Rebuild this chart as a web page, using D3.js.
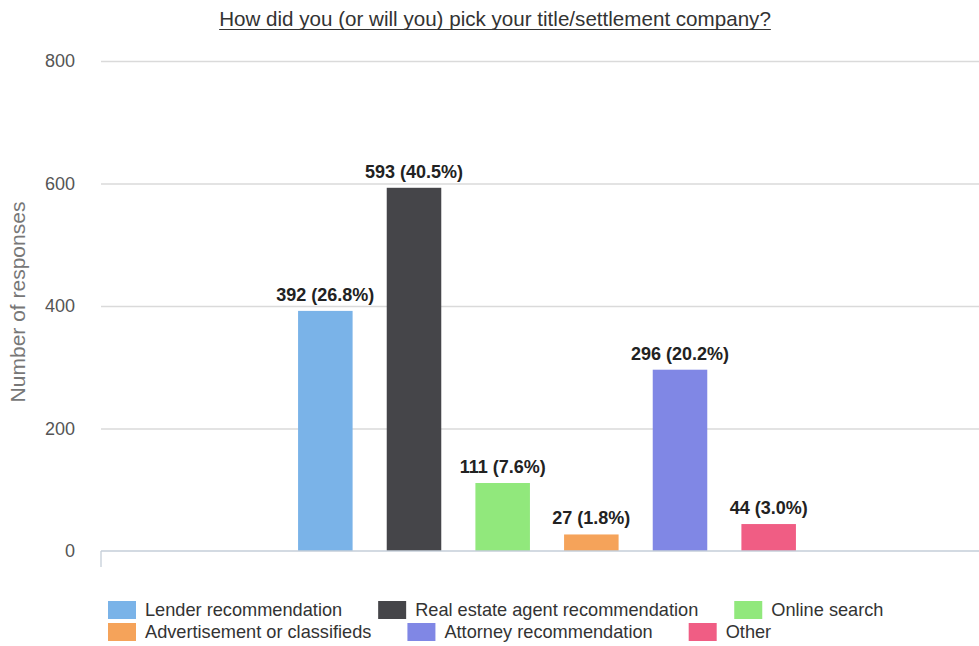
<!DOCTYPE html>
<html>
<head>
<meta charset="utf-8">
<script src="https://cdn.jsdelivr.net/npm/d3@7"></script>
<style>
  html, body { margin: 0; padding: 0; background: #fff; }
  svg { display: block; font-family: "Liberation Sans", Arial, sans-serif; }
</style>
</head>
<body>
<svg id="chart" width="979" height="646"></svg>
<script>
// Survey answers: how respondents picked a title/settlement company
const categories = [
  "Lender recommendation",
  "Real estate agent recommendation",
  "Online search",
  "Advertisement or classifieds",
  "Attorney recommendation",
  "Other"
];
const responses = [392, 593, 111, 27, 296, 44];
const percentLabels = ["26.8%", "40.5%", "7.6%", "1.8%", "20.2%", "3.0%"];
const colors = ["#7ab3e8", "#454549", "#91e87c", "#f5a35a", "#8087e5", "#f05d84"];
const yTicks = [0, 200, 400, 600, 800];
const title = "How did you (or will you) pick your title/settlement company?";
const yTitle = "Number of responses";

const svg = d3.select("#chart");

const plot = { left: 101, right: 979, top: 61, bottom: 551 };

const x = d3.scaleBand()
  .domain(categories)
  .range([281, 813])
  .paddingInner(0.385)
  .paddingOuter(0.1925);

const y = d3.scaleLinear()
  .domain([0, 800])
  .range([plot.bottom, plot.top]);

// Title with underline
const titleText = svg.append("text")
  .attr("x", 495)
  .attr("y", 26)
  .attr("text-anchor", "middle")
  .attr("font-size", 20.6)
  .attr("fill", "#333")
  .text(title);
const tb = titleText.node().getBBox();
svg.append("line")
  .attr("x1", tb.x).attr("x2", tb.x + tb.width)
  .attr("y1", 29.5).attr("y2", 29.5)
  .attr("stroke", "#333").attr("stroke-width", 1);

// Gridlines and tick labels
const yAxis = d3.axisLeft(y)
  .tickValues(yTicks)
  .tickSize(-(plot.right - plot.left))
  .tickPadding(26)
  .tickFormat(d3.format("d"));

const gy = svg.append("g")
  .attr("transform", `translate(${plot.left},0)`)
  .call(yAxis);
gy.select(".domain").remove();
gy.selectAll(".tick line")
  .attr("stroke", d => d === 0 ? "none" : "#dadada")
  .attr("stroke-width", 1.3);
gy.selectAll(".tick text")
  .attr("font-size", 18)
  .attr("fill", "#555")
  .attr("font-family", "Liberation Sans, Arial, sans-serif");

// Y axis title
svg.append("text")
  .attr("transform", `translate(25,302) rotate(-90)`)
  .attr("text-anchor", "middle")
  .attr("font-size", 21)
  .attr("fill", "#777")
  .text(yTitle);

// Bars
svg.append("g")
  .selectAll("rect")
  .data(categories)
  .join("rect")
  .attr("x", d => x(d))
  .attr("width", x.bandwidth())
  .attr("y", (d, i) => y(responses[i]))
  .attr("height", (d, i) => y(0) - y(responses[i]))
  .attr("fill", (d, i) => colors[i]);

// Value labels
svg.append("g")
  .selectAll("text")
  .data(categories)
  .join("text")
  .attr("x", d => x(d) + x.bandwidth() / 2)
  .attr("y", (d, i) => y(responses[i]) - 10)
  .attr("text-anchor", "middle")
  .attr("font-size", 18)
  .attr("font-weight", "bold")
  .attr("fill", "#222")
  .text((d, i) => `${responses[i]} (${percentLabels[i]})`);

// Baseline and small left stub
svg.append("line")
  .attr("x1", plot.left).attr("x2", plot.right)
  .attr("y1", y(0)).attr("y2", y(0))
  .attr("stroke", "#c5ced8").attr("stroke-width", 1.5);
svg.append("line")
  .attr("x1", plot.left).attr("x2", plot.left)
  .attr("y1", y(0)).attr("y2", y(0) + 16)
  .attr("stroke", "#c5ced8").attr("stroke-width", 1.3);

// Legend: two rows of three entries
const legend = svg.append("g");
const rows = [[0, 1, 2], [3, 4, 5]];
const rowY = [610, 632];
rows.forEach((row, r) => {
  let cx = 108;
  row.forEach(i => {
    legend.append("rect")
      .attr("x", cx).attr("y", rowY[r] - 9)
      .attr("width", 28).attr("height", 18)
      .attr("fill", colors[i]);
    const t = legend.append("text")
      .attr("x", cx + 37).attr("y", rowY[r] + 6)
      .attr("font-size", 18.2)
      .attr("fill", "#333")
      .text(categories[i]);
    cx += 37 + t.node().getComputedTextLength() + 36;
  });
});
</script>
</body>
</html>
